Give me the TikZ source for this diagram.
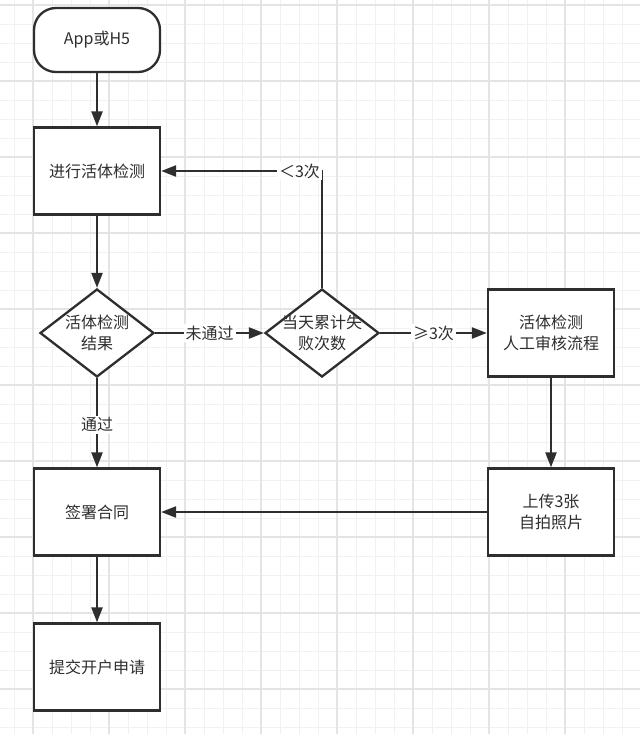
\documentclass[tikz,border=0pt]{standalone}
\usepackage{fontspec}
\setmainfont{Noto Sans CJK SC}
\usepackage{tikz}
\usetikzlibrary{
	arrows.meta,									% 箭头样式
	positioning,									% 节点的摆放
	shapes.geometric,								% 菱形
}
\definecolor{ink}{HTML}{2E2E2E}
\definecolor{gridminor}{HTML}{F1F1F1}
\definecolor{gridmajor}{HTML}{E4E4E4}

\tikzset{
	stepbox/.style={draw=ink, line width=2.3pt, fill=white, minimum width=126pt, minimum height=87pt, align=center},
	startbox/.style={draw=ink, line width=2.3pt, fill=white, rounded corners=22pt, minimum width=126pt, minimum height=64pt},
	decision/.style={diamond, draw=ink, line width=2.3pt, fill=white, minimum width=114pt, minimum height=88pt, inner sep=0pt},
	flow/.style={draw=ink, line width=2.3pt, -{Triangle[length=15pt, width=11pt]}},
	tag/.style={fill=white, inner sep=2pt},
}

\begin{document}
\begin{tikzpicture}[x=1pt, y=-1pt, every node/.style={font=\fontsize{16}{21}\selectfont, text=ink}]
	\useasboundingbox[fill=white] (0,0) rectangle (640,734);
	% 背景网格
	\foreach \x in {14,33,...,640} \draw[gridminor, line width=0.8pt] (\x,0) -- (\x,734);
	\foreach \y in {5,24,...,734} \draw[gridminor, line width=0.8pt] (0,\y) -- (640,\y);
	\foreach \x in {33,109,...,640} \draw[gridmajor, line width=1.2pt] (\x,0) -- (\x,734);
	\foreach \y in {5,81,...,734} \draw[gridmajor, line width=1.2pt] (0,\y) -- (640,\y);

	% 流程节点
	\node[startbox] (app) at (97,40) {App或H5};
	\node[stepbox] (live) at (97,171) {进行活体检测};
	\node[decision, label={[align=center]center:活体检测\\结果}] (result) at (97,333) {};
	\node[decision, label={[align=center]center:当天累计失\\败次数}] (fails) at (322,333) {};
	\node[stepbox] (manual) at (551,333) {活体检测\\人工审核流程};
	\node[stepbox] (upload) at (551,512) {上传3张\\自拍照片};
	\node[stepbox] (sign) at (97,512) {签署合同};
	\node[stepbox] (submit) at (97,667) {提交开户申请};

	% 连线
	\draw[flow] (app) -- (live);
	\draw[flow] (live) -- (result);
	\draw[flow] (result) -- node[tag]{未通过} (fails);
	\draw[flow] (fails) -- node[tag]{≥3次} (manual);
	\draw[flow] (fails.north) |- node[tag, pos=0.57]{＜3次} (live.east);
	\draw[flow] (result) -- node[tag, yshift=-2pt]{通过} (sign);
	\draw[flow] (manual) -- (upload);
	\draw[flow] (upload) -- (sign);
	\draw[flow] (sign) -- (submit);
\end{tikzpicture}
\end{document}
